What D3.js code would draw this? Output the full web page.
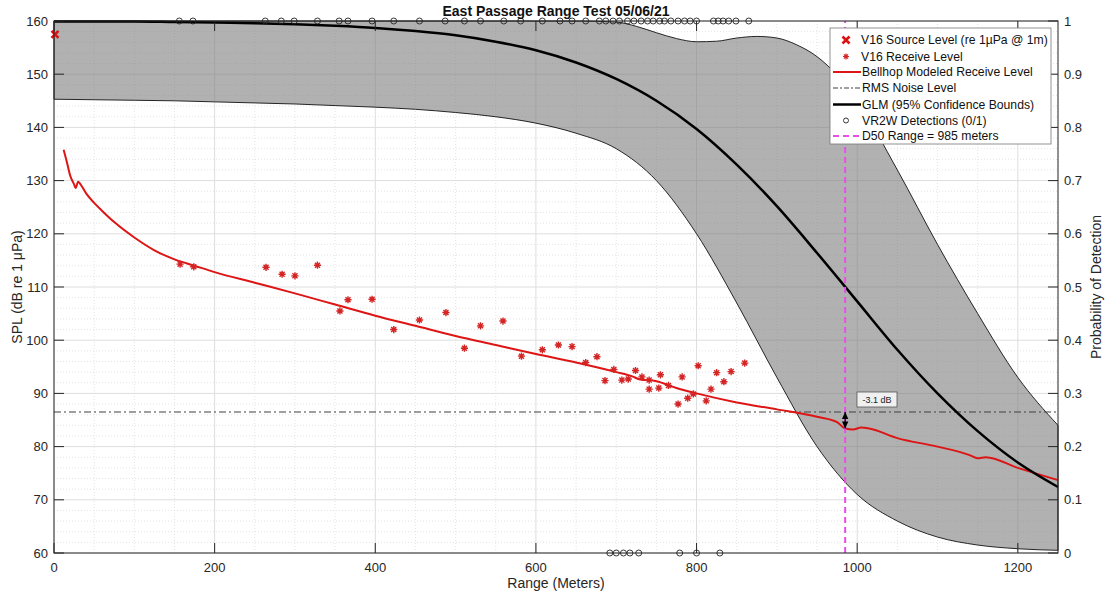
<!DOCTYPE html>
<html><head><meta charset="utf-8">
<script src="https://cdn.jsdelivr.net/npm/d3@7"></script>
<style>body{margin:0;background:#fff;} text{font-family:"Liberation Sans",Arial,Helvetica,sans-serif;}</style>
</head><body><svg id="c" width="1107" height="598"></svg>
<script>
// ---------- data ----------
const titleText = "East Passage Range Test 05/06/21";
const xTicks = [0,200,400,600,800,1000,1200];
const yTicks = [60,70,80,90,100,110,120,130,140,150,160];
const pTicks = [0,0.1,0.2,0.3,0.4,0.5,0.6,0.7,0.8,0.9,1];

const sourceRange = [0];
const sourceLevel = [157.5];

const rxRange = [157,174,264,284,300,328,356,366,396,423,455,488,511,531,559,582,608,628,645,662,676,686,697,707,715,724,732,741,741,753,755,765,777,782,789,796,802,812,818,825,834,843,860];
const rxLevel = [114.3,113.8,113.7,112.4,112.1,114.1,105.5,107.6,107.7,102.0,103.8,105.2,98.5,102.7,103.6,97.0,98.2,99.1,98.8,95.8,96.9,92.4,94.5,92.5,92.7,94.3,93.1,92.5,90.8,91.0,93.5,91.5,88.0,93.1,89.1,89.9,95.2,88.6,90.8,93.9,92.2,94.1,95.7];

const bhRange = [12,16,20,25,27,30,33,40,50,60,75,100,125,150,175,200,250,300,350,400,450,500,550,600,650,700,720,730,750,775,800,850,900,950,975,985,995,1005,1015,1050,1100,1140,1150,1160,1200,1250];
const bhLevel = [135.8,133.5,131.0,129.3,128.6,129.8,129.3,127.6,125.8,124.3,122.2,119.3,116.9,115.2,114.0,112.8,110.8,108.8,106.7,104.6,102.7,100.8,99.1,97.4,95.8,94.0,93.2,92.6,92.3,91.0,90.0,88.3,87.0,85.6,84.6,83.4,83.2,83.6,83.4,81.6,80.0,78.4,77.8,78.0,76.0,73.7];

const noiseLevel = 86.5;

const glmRange = [0,50,100,150,200,250,300,350,400,450,500,550,600,650,700,750,800,850,900,950,1000,1050,1100,1150,1200,1250];
const glmP     = [0.999,0.999,0.999,0.998,0.997,0.996,0.994,0.991,0.987,0.981,0.973,0.961,0.945,0.922,0.891,0.850,0.797,0.730,0.652,0.564,0.473,0.382,0.300,0.229,0.170,0.124];
const glmLower = [0.853,0.852,0.851,0.850,0.848,0.846,0.844,0.841,0.838,0.834,0.828,0.820,0.808,0.789,0.760,0.700,0.600,0.470,0.330,0.200,0.110,0.060,0.030,0.015,0.008,0.005];

const upRange = [0,300,600,650,700,725,750,775,800,825,850,875,900,925,950,975,1000,1050,1100,1150,1200,1250];
const upP     = [1,1,1,1,0.998,0.990,0.978,0.967,0.961,0.962,0.968,0.971,0.968,0.955,0.933,0.898,0.850,0.720,0.580,0.450,0.330,0.240];

const detRange1 = [156,173,263,283,299,328,355,366,396,423,455,487,511,531,560,581,608,630,645,662,679,687,696,704,714,722,731,739,746,754,760,768,777,785,792,800,821,827,833,840,849,865];
const detRange0 = [692,700,709,717,728,779,800,829];

const d50Range = 985;
const deltaLabel = "-3.1 dB";
const deltaLow = 83.4;

const legendLabels = ["V16 Source Level (re 1\u00b5Pa @ 1m)","V16 Receive Level","Bellhop Modeled Receive Level","RMS Noise Level","GLM (95% Confidence Bounds)","VR2W Detections (0/1)","D50 Range = 985 meters"];

// ---------- drawing ----------
const svg = d3.select("#c");
const L=54, R=1058, T=21, B=553;
const x = d3.scaleLinear([0,1250],[L,R]);
const y = d3.scaleLinear([60,160],[B,T]);
const p = d3.scaleLinear([0,1],[B,T]);
const axisCol = "#262626";

svg.append("rect").attr("width",1107).attr("height",598).attr("fill","#fff");

// grid
const g = svg.append("g");
const minorX = d3.range(0,1251,50).filter(v=>v%200!==0);
const minorY = d3.range(60,161,2).filter(v=>v%10!==0);
g.selectAll(".mx").data(minorX).join("line").attr("x1",d=>x(d)).attr("x2",d=>x(d)).attr("y1",T).attr("y2",B)
 .attr("stroke","#d9d9d9").attr("stroke-width",0.7).attr("stroke-dasharray","1,2");
g.selectAll(".my").data(minorY).join("line").attr("y1",d=>y(d)).attr("y2",d=>y(d)).attr("x1",L).attr("x2",R)
 .attr("stroke","#d9d9d9").attr("stroke-width",0.7).attr("stroke-dasharray","1,2");
g.selectAll(".Mx").data(xTicks).join("line").attr("x1",d=>x(d)).attr("x2",d=>x(d)).attr("y1",T).attr("y2",B)
 .attr("stroke","#dedede").attr("stroke-width",1);
g.selectAll(".My").data(yTicks).join("line").attr("y1",d=>y(d)).attr("y2",d=>y(d)).attr("x1",L).attr("x2",R)
 .attr("stroke","#dedede").attr("stroke-width",1);

// confidence patch
const curve = d3.line().curve(d3.curveMonotoneX);
const upPts = upRange.map((r,i)=>[x(r),p(upP[i])]);
const loPts = glmRange.map((r,i)=>[x(r),p(glmLower[i])]);
const upStr = curve(upPts);
const loStr = d3.line().curve(d3.curveMonotoneX)(loPts.slice().reverse());
svg.append("path").attr("d", upStr + "L" + loStr.slice(1) + "Z")
  .attr("fill","rgba(120,120,120,0.58)").attr("stroke","#111").attr("stroke-width",0.9);

// noise line
svg.append("line").attr("x1",L).attr("x2",R).attr("y1",y(noiseLevel)).attr("y2",y(noiseLevel))
  .attr("stroke","#404040").attr("stroke-width",1.2).attr("stroke-dasharray","7,3,2,3");

// bellhop line
svg.append("path").datum(bhRange.map((r,i)=>[x(r),y(bhLevel[i])]))
  .attr("d", curve).attr("fill","none").attr("stroke","#dd1515").attr("stroke-width",2);

// GLM line
svg.append("path").datum(glmRange.map((r,i)=>[x(r),p(glmP[i])]))
  .attr("d", curve).attr("fill","none").attr("stroke","#000").attr("stroke-width",2.5);

// D50 line
svg.append("line").attr("x1",x(d50Range)).attr("x2",x(d50Range)).attr("y1",B).attr("y2",T)
  .attr("stroke","#e84ee8").attr("stroke-width",2).attr("stroke-dasharray","6,4");

// receive level asterisks
function star(s){const d=s*0.7;return `M${-s},0H${s}M0,${-s}V${s}M${-d},${-d}L${d},${d}M${-d},${d}L${d},${-d}`;}
svg.append("g").selectAll("path").data(rxRange.map((r,i)=>[r,rxLevel[i]])).join("path")
  .attr("transform",d=>`translate(${x(d[0])},${y(d[1])})`).attr("d",star(3.6))
  .attr("stroke","#d42424").attr("stroke-width",1.4).attr("fill","none");

// source level X
svg.append("g").selectAll("path").data(sourceRange.map((r,i)=>[r,sourceLevel[i]])).join("path")
  .attr("transform",d=>`translate(${x(d[0])+1},${y(d[1])})`).attr("d","M-3.5,-3.5L3.5,3.5M-3.5,3.5L3.5,-3.5")
  .attr("stroke","#dd1111").attr("stroke-width",2.6);

// detections
const det = svg.append("g");
det.selectAll(".d1").data(detRange1).join("circle").attr("cx",d=>x(d)).attr("cy",p(1)).attr("r",3)
  .attr("fill","none").attr("stroke","#222").attr("stroke-width",0.9);
det.selectAll(".d0").data(detRange0).join("circle").attr("cx",d=>x(d)).attr("cy",p(0)).attr("r",3)
  .attr("fill","none").attr("stroke","#222").attr("stroke-width",0.9);

// arrow
const ax = x(d50Range), ya = y(noiseLevel), yb = y(deltaLow);
svg.append("line").attr("x1",ax).attr("x2",ax).attr("y1",ya).attr("y2",yb).attr("stroke","#000").attr("stroke-width",1.2);
svg.append("path").attr("d",`M${ax},${ya}L${ax-3.2},${ya+7}L${ax+3.2},${ya+7}Z M${ax},${yb}L${ax-3.2},${yb-7}L${ax+3.2},${yb-7}Z`).attr("fill","#000");
svg.append("rect").attr("x",857).attr("y",392).attr("width",40).attr("height",15).attr("fill","#f0f0f0").attr("stroke","#555").attr("stroke-width",0.8);
svg.append("text").attr("x",877).attr("y",403).attr("text-anchor","middle").attr("font-size",9).attr("fill","#222").text(deltaLabel);

// axes box
svg.append("rect").attr("x",L).attr("y",T).attr("width",R-L).attr("height",B-T).attr("fill","none").attr("stroke",axisCol).attr("stroke-width",1);
const tk = svg.append("g").attr("stroke",axisCol).attr("stroke-width",1);
xTicks.forEach(v=>{tk.append("line").attr("x1",x(v)).attr("x2",x(v)).attr("y1",B).attr("y2",B-10);
  tk.append("line").attr("x1",x(v)).attr("x2",x(v)).attr("y1",T).attr("y2",T+10);});
yTicks.forEach(v=>{tk.append("line").attr("y1",y(v)).attr("y2",y(v)).attr("x1",L).attr("x2",L+10);});
pTicks.forEach(v=>{tk.append("line").attr("y1",p(v)).attr("y2",p(v)).attr("x1",R).attr("x2",R-10);});

const lab = svg.append("g").attr("font-size",13).attr("fill",axisCol);
xTicks.forEach(v=>lab.append("text").attr("x",x(v)).attr("y",B+19).attr("text-anchor","middle").text(v));
yTicks.forEach(v=>lab.append("text").attr("x",L-6).attr("y",y(v)+4.5).attr("text-anchor","end").text(v));
pTicks.forEach(v=>lab.append("text").attr("x",R+6).attr("y",p(v)+4.5).attr("text-anchor","start").text(v));

svg.append("text").attr("x",(L+R)/2).attr("y",B+35).attr("text-anchor","middle").attr("font-size",14).attr("fill",axisCol).text("Range (Meters)");
svg.append("text").attr("transform",`translate(22,${(T+B)/2}) rotate(-90)`).attr("text-anchor","middle").attr("font-size",14).attr("fill",axisCol).text("SPL (dB re 1 \u03bcPa)");
svg.append("text").attr("transform",`translate(1101,${(T+B)/2}) rotate(-90)`).attr("text-anchor","middle").attr("font-size",14).attr("fill",axisCol).text("Probability of Detection");
svg.append("text").attr("x",(L+R)/2).attr("y",16).attr("text-anchor","middle").attr("font-size",14).attr("font-weight","bold").attr("fill","#111").text(titleText);

// legend
const lg = svg.append("g");
lg.append("rect").attr("x",830).attr("y",28).attr("width",221).attr("height",116).attr("fill","#fff").attr("stroke","#777").attr("stroke-width",0.8);
const ly = [40,56.5,72,88,104.5,120.5,136];
const lx0=833, lx1=861, lm=846;
lg.append("path").attr("transform",`translate(${lm},${ly[0]})`).attr("d","M-3.5,-3.5L3.5,3.5M-3.5,3.5L3.5,-3.5").attr("stroke","#dd1111").attr("stroke-width",2.6);
lg.append("path").attr("transform",`translate(${lm},${ly[1]})`).attr("d",star(3)).attr("stroke","#d42424").attr("stroke-width",1.2).attr("fill","none");
lg.append("line").attr("x1",lx0).attr("x2",lx1).attr("y1",ly[2]).attr("y2",ly[2]).attr("stroke","#dd1515").attr("stroke-width",2);
lg.append("line").attr("x1",lx0).attr("x2",lx1).attr("y1",ly[3]).attr("y2",ly[3]).attr("stroke","#404040").attr("stroke-width",1.2).attr("stroke-dasharray","5,2,2,2");
lg.append("line").attr("x1",lx0).attr("x2",lx1).attr("y1",ly[4]).attr("y2",ly[4]).attr("stroke","#000").attr("stroke-width",2.5);
lg.append("circle").attr("cx",lm).attr("cy",ly[5]).attr("r",2.5).attr("fill","none").attr("stroke","#222").attr("stroke-width",0.9);
lg.append("line").attr("x1",lx0).attr("x2",lx1).attr("y1",ly[6]).attr("y2",ly[6]).attr("stroke","#e84ee8").attr("stroke-width",2).attr("stroke-dasharray","6,4");
legendLabels.forEach((t,i)=>lg.append("text").attr("x",i<2?861:862).attr("y",ly[i]+4.3).attr("font-size",12.2).attr("fill","#111").text(t));
</script></body></html>
